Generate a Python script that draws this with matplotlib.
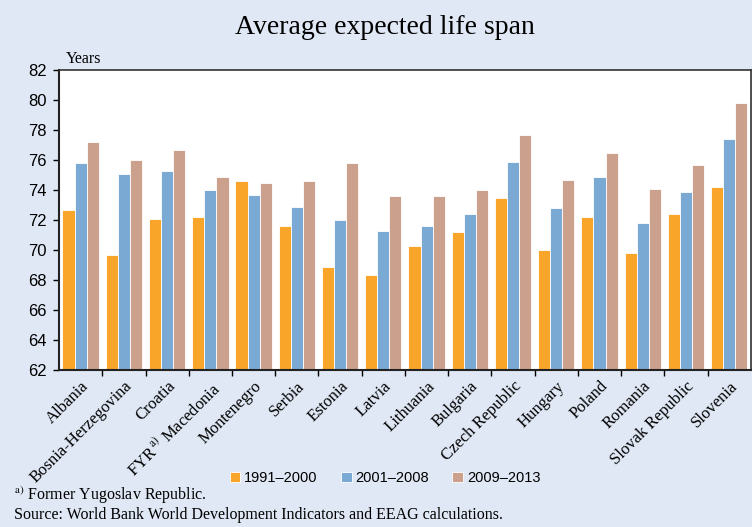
import matplotlib.pyplot as plt
import numpy as np

plt.rcParams['mathtext.fontset'] = 'stix'

countries = ['Albania', 'Bosnia-Herzegovina', 'Croatia', 'FYR$^{\\,\\mathrm{a)}}$ Macedonia', 'Montenegro',
             'Serbia', 'Estonia', 'Latvia', 'Lithuania', 'Bulgaria', 'Czech Republic',
             'Hungary', 'Poland', 'Romania', 'Slovak Republic', 'Slovenia']
p1991_2000 = [72.7, 69.7, 72.1, 72.2, 74.6, 71.6, 68.9, 68.3, 70.3, 71.2, 73.5, 70.0, 72.2, 69.8, 72.4, 74.2]
p2001_2008 = [75.8, 75.1, 75.3, 74.0, 73.7, 72.9, 72.0, 71.3, 71.6, 72.4, 75.9, 72.8, 74.9, 71.8, 73.9, 77.4]
p2009_2013 = [77.2, 76.0, 76.7, 74.9, 74.5, 74.6, 75.8, 73.6, 73.6, 74.0, 77.7, 74.7, 76.5, 74.1, 75.7, 79.8]
series_labels = ['1991\u20132000', '2001\u20132008', '2009\u20132013']
colors = ['#F8A52A', '#7AAAD4', '#CBA08C']

bg = '#E0E8F5'
fig = plt.figure(figsize=(7.52, 5.27), dpi=100, facecolor=bg)
ax = fig.add_axes([0.0785, 0.298, 0.920, 0.569])
ax.set_facecolor('white')

x = np.arange(len(countries))
w = 0.28
base = 62
for i, vals in enumerate([p1991_2000, p2001_2008, p2009_2013]):
    vals = np.array(vals)
    ax.bar(x + (i - 1) * w, vals - base, w, bottom=base, color=colors[i],
           edgecolor='white', linewidth=0.6, label=series_labels[i])

ax.set_ylim(62, 82)
ax.set_xlim(-0.5, len(countries) - 0.5)
ax.set_yticks(range(62, 83, 2))
ax.tick_params(axis='y', labelsize=12, direction='out', length=4, width=1, pad=5)
for lab in ax.get_yticklabels():
    lab.set_family('Liberation Sans')

ax.set_xticks(x[:-1] + 0.5, minor=True)
ax.set_xticks(x)
ax.set_xticklabels(countries, rotation=45, ha='right', rotation_mode='anchor',
                   family='Liberation Serif', fontsize=12)
ax.tick_params(axis='x', which='major', length=0, pad=6)
ax.tick_params(axis='x', which='minor', direction='out', length=4, width=1)

for s in ['left', 'bottom']:
    ax.spines[s].set_linewidth(1.5)
    ax.spines[s].set_color('#222222')
for s in ['top', 'right']:
    ax.spines[s].set_linewidth(1.2)
    ax.spines[s].set_color('#333333')

fig.text(0.512, 0.947, 'Average expected life span', ha='center', va='center',
         family='Liberation Serif', fontsize=20)
fig.text(0.088, 0.888, 'Years', ha='left', va='center', family='Liberation Serif', fontsize=11.5)

leg = fig.legend(loc='center', bbox_to_anchor=(0.512, 0.093), ncol=3, frameon=False,
                 handlelength=0.75, handleheight=0.75, handletextpad=0.25, columnspacing=1.6,
                 prop={'family': 'Liberation Sans', 'size': 10.5})

fig.text(0.018, 0.060, '$^{\\mathrm{a)}}$ Former Yugoslav Republic.', ha='left', va='center',
         family='Liberation Serif', fontsize=11.5)
fig.text(0.018, 0.022, 'Source: World Bank World Development Indicators and EEAG calculations.',
         ha='left', va='center', family='Liberation Serif', fontsize=11.5)

fig.savefig('out.png', dpi=100, facecolor=bg)
